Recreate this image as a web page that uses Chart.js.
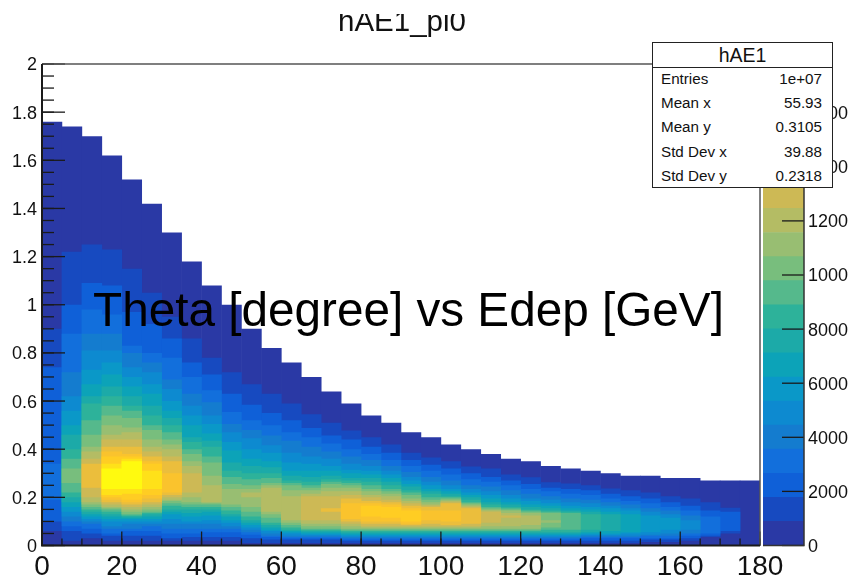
<!DOCTYPE html>
<html>
<head>
<meta charset="utf-8">
<script src="https://cdn.jsdelivr.net/npm/chart.js@4/dist/chart.umd.min.js"></script>
<style>
  html, body { margin: 0; padding: 0; background: #fff; }
  #page { position: relative; width: 848px; height: 580px; overflow: hidden; font-family: "Liberation Sans", sans-serif; color: #111; filter: blur(0.4px); }
  canvas { position: absolute; top: 0; }
  #main { left: 0; }
  #bar { left: 755px; }
  #title { position: absolute; left: 0; width: 804px; top: 14px; height: 28px; overflow: hidden; text-align: center; font-size: 29.5px; line-height: 26px; }
  #title span { position: relative; top: -6px; }
  #overlay { position: absolute; left: 93px; top: 280px; font-size: 47.7px; line-height: 60px; color: #000; white-space: nowrap; }
  #stats { position: absolute; left: 652px; top: 42px; width: 179px; height: 144px; border: 1.5px solid #222; background: #fff; font-size: 15.2px; box-sizing: content-box; }
  #stats .head { height: 24px; line-height: 25px; text-align: center; font-size: 19.5px; border-bottom: 1.5px solid #222; }
  #stats .row { display: flex; justify-content: space-between; padding: 0 10px 0 8px; height: 24.2px; line-height: 21px; }
</style>
</head>
<body>
<div id="page">
  <canvas id="main" width="848" height="580"></canvas>
  <canvas id="bar" width="140" height="580"></canvas>
  <div id="title"><span>hAE1_pi0</span></div>
  <div id="overlay">Theta [degree] vs Edep [GeV]</div>
  <div id="stats">
    <div class="head">hAE1</div>
    <div class="row"><span>Entries</span><span>1e+07</span></div>
    <div class="row"><span>Mean x</span><span>55.93</span></div>
    <div class="row"><span>Mean y</span><span>0.3105</span></div>
    <div class="row"><span>Std Dev x</span><span>39.88</span></div>
    <div class="row"><span>Std Dev y</span><span>0.2318</span></div>
  </div>
</div>
<script>
// theta bins, 5 degrees wide
const thetaCenters = [2.5,7.5,12.5,17.5,22.5,27.5,32.5,37.5,42.5,47.5,52.5,57.5,62.5,67.5,72.5,77.5,82.5,87.5,92.5,97.5,102.5,107.5,112.5,117.5,122.5,127.5,132.5,137.5,142.5,147.5,152.5,157.5,162.5,167.5,172.5,177.5];

// colour band edges read per theta bin, Edep in GeV
// bandHighs[c][k] = where band k ends going up, bandLows[c][k-1] = where band k starts
const bandHighs = [
  [1.76,.90,.74,.34],
  [1.74,1.22,1.00,.88,.72,.62,.56,.50,.46,.40,.36,.32],
  [1.70,1.25,1.09,.98,.88,.81,.73,.67,.62,.59,.52,.46,.41,.39,.36,.34],
  [1.62,1.23,1.08,.96,.88,.81,.76,.71,.66,.62,.58,.54,.50,.46,.44,.41,.39,.37,.34,.32],
  [1.52,1.15,.97,.83,.80,.74,.70,.66,.62,.58,.56,.53,.49,.47,.44,.41,.38,.37,.36,.35],
  [1.42,1.05,.92,.80,.76,.72,.67,.63,.58,.54,.50,.48,.44,.41,.39,.37,.35,.34,.31],
  [1.30,.95,.86,.78,.69,.65,.60,.56,.53,.50,.47,.44,.42,.40,.37,.35,.30],
  [1.18,.86,.76,.70,.63,.58,.54,.50,.45,.43,.40,.38,.35,.33,.30],
  [1.08,.78,.71,.645,.595,.54,.505,.465,.435,.41,.37,.345,.29,.25],
  [1.00,.72,.63,.555,.505,.47,.43,.395,.345,.31,.285,.255,.235],
  [.90,.67,.585,.52,.48,.445,.40,.36,.33,.30,.275,.25,.235,.22],
  [.82,.63,.55,.50,.457,.416,.385,.35,.325,.30,.28,.26,.25,.24],
  [.76,.59,.52,.47,.435,.385,.345,.31,.29,.27,.26,.25,.23,.205],
  [.70,.545,.488,.45,.41,.37,.34,.31,.285,.265,.25,.24,.23,.215,.205],
  [.64,.51,.457,.424,.39,.36,.33,.31,.29,.275,.265,.255,.24,.225,.205,.155],
  [.59,.478,.44,.40,.37,.34,.315,.30,.28,.27,.26,.25,.24,.225,.21,.195,.175],
  [.54,.45,.41,.38,.355,.33,.31,.295,.28,.265,.25,.235,.225,.21,.20,.185,.175,.165],
  [.51,.42,.385,.355,.33,.31,.295,.28,.265,.25,.235,.225,.215,.205,.19,.18,.17,.16],
  [.47,.385,.355,.33,.305,.285,.27,.255,.245,.23,.22,.21,.195,.185,.175,.165,.155,.145],
  [.45,.366,.335,.31,.285,.265,.25,.235,.225,.215,.20,.19,.18,.17,.165,.16,.145],
  [.42,.35,.32,.295,.27,.25,.235,.225,.215,.205,.20,.195,.19,.185,.18,.175,.145],
  [.40,.328,.30,.275,.25,.235,.22,.21,.20,.19,.18,.175,.17,.165,.16,.155],
  [.38,.32,.285,.265,.245,.225,.21,.195,.18,.17,.16,.155,.15,.145,.14],
  [.36,.295,.27,.25,.23,.21,.195,.18,.17,.16,.155,.15,.145,.135,.125],
  [.35,.284,.255,.235,.215,.195,.185,.17,.16,.15,.145,.14,.135,.125],
  [.33,.263,.24,.225,.205,.19,.175,.165,.155,.145,.14,.135,.105],
  [.32,.258,.235,.215,.195,.18,.165,.155,.145,.14,.135],
  [.31,.25,.23,.21,.19,.175,.16,.15,.14,.13],
  [.30,.237,.215,.195,.18,.165,.155,.14,.13],
  [.29,.23,.205,.185,.17,.155,.145,.13],
  [.29,.22,.195,.175,.155,.14,.125],
  [.28,.205,.18,.16,.145,.13,.115],
  [.28,.195,.165,.145,.125,.105],
  [.27,.18,.145,.12],
  [.27,.157,.14],
  [.27]
];
const bandLows = [
  [.06,.10,.19],
  [.02,.06,.08,.10,.12,.14,.16,.18,.20,.22,.26],
  [.03,.05,.07,.09,.10,.11,.12,.13,.14,.15,.16,.17,.18,.20,.24],
  [.02,.04,.05,.07,.08,.10,.11,.12,.13,.14,.15,.155,.16,.17,.18,.19,.20,.21,.235],
  [.02,.04,.06,.07,.09,.10,.11,.115,.12,.125,.13,.14,.15,.16,.17,.18,.19,.215,.235],
  [.02,.04,.06,.08,.09,.10,.11,.12,.13,.135,.14,.15,.16,.17,.18,.195,.21,.235],
  [.02,.03,.05,.07,.09,.11,.13,.14,.15,.165,.175,.185,.19,.20,.21,.22],
  [.02,.035,.05,.07,.09,.10,.12,.135,.15,.16,.17,.18,.20,.22],
  [.02,.035,.055,.07,.09,.105,.125,.14,.15,.16,.17,.175,.18],
  [.02,.035,.055,.07,.08,.095,.105,.12,.13,.145,.16,.17],
  [.01,.03,.045,.055,.065,.075,.085,.095,.105,.12,.14,.16,.20],
  [.01,.025,.035,.04,.05,.06,.065,.075,.085,.095,.115,.13,.14],
  [.01,.025,.03,.035,.04,.05,.055,.06,.065,.075,.085,.095,.105],
  [.01,.025,.03,.035,.04,.045,.05,.055,.06,.065,.07,.08,.09,.105],
  [.01,.025,.03,.035,.04,.045,.05,.055,.06,.065,.07,.08,.09,.105,.14],
  [.01,.02,.025,.03,.035,.04,.045,.05,.055,.06,.065,.07,.08,.09,.10,.11],
  [.01,.02,.025,.03,.035,.04,.045,.05,.055,.06,.065,.07,.075,.08,.09,.10,.12],
  [.01,.02,.025,.03,.035,.04,.045,.05,.055,.06,.065,.07,.075,.08,.09,.10,.115],
  [.01,.02,.025,.03,.035,.04,.045,.05,.055,.06,.065,.07,.075,.08,.085,.09,.10],
  [.01,.02,.025,.03,.035,.04,.045,.05,.055,.06,.065,.07,.075,.08,.09,.105],
  [.01,.02,.025,.03,.035,.04,.045,.05,.055,.06,.065,.07,.075,.08,.085,.10],
  [.01,.02,.025,.03,.035,.04,.045,.05,.055,.06,.065,.07,.075,.08,.09],
  [.01,.02,.025,.03,.035,.04,.045,.05,.055,.06,.065,.07,.08,.095],
  [.01,.02,.025,.03,.035,.04,.045,.05,.055,.06,.065,.07,.08,.115],
  [.01,.02,.025,.03,.035,.04,.045,.05,.055,.06,.065,.07,.085],
  [.01,.02,.025,.03,.035,.04,.045,.05,.055,.065,.075,.095],
  [.01,.02,.025,.03,.035,.04,.045,.05,.055,.065],
  [.01,.02,.03,.035,.04,.045,.05,.055,.065],
  [.01,.02,.03,.035,.04,.045,.05,.06],
  [.01,.02,.03,.035,.04,.05,.055],
  [.015,.025,.03,.04,.045,.055],
  [.015,.025,.03,.04,.05,.065],
  [.02,.03,.04,.05,.065],
  [.035,.04,.05],
  [.05,.06],
  []
];

// colour scale
const zEdges = [0,890,1780,2670,3560,4450,5340,6230,7120,8010,8900,9790,10680,11570,12460,13350,14240,15130,16020,16910,17800];
const zTicks = [0,2000,4000,6000,8000,10000,12000,14000,16000];
const palette = ['#2a39a5','#174ac0','#0f60d8','#126fdc','#147ccf','#0d8ad0','#0a98c8','#0ca3b8','#1caaa8','#2db29a','#55b98c','#78be7d','#98be72','#b4bc64','#cdb955','#ebbe3c','#fac32d','#ffcd23','#ffe119','#fffa0f'];

const lineColor = '#1a1a1a';

// axis decorations: ROOT puts its tick marks inside the frame
function insideTicks(scale, ctx, area, minorStep, majorLen, minorLen) {
  const horiz = scale.isHorizontal();
  ctx.strokeStyle = lineColor;
  ctx.lineWidth = 1.3;
  const mark = (v, len) => {
    const p = scale.getPixelForValue(v);
    ctx.beginPath();
    if (horiz) { ctx.moveTo(p, area.bottom); ctx.lineTo(p, area.bottom - len); }
    else if (scale.position === 'right') { ctx.moveTo(area.right, p); ctx.lineTo(area.right - len, p); }
    else { ctx.moveTo(area.left, p); ctx.lineTo(area.left + len, p); }
    ctx.stroke();
  };
  if (minorStep) {
    for (let i = 0, v = scale.min; v <= scale.max + 1e-6; i++, v = scale.min + i * minorStep) mark(v, minorLen);
  }
  scale.ticks.forEach(t => mark(t.value, majorLen));
}

const mainFrame = {
  id: 'mainFrame',
  afterDatasetsDraw(chart) {
    const { ctx, chartArea: a, scales } = chart;
    ctx.save();
    insideTicks(scales.x, ctx, a, 5, 14, 7);
    insideTicks(scales.y, ctx, a, 0.05, 23, 12);
    ctx.strokeStyle = '#555';
    ctx.lineWidth = 1.5;
    ctx.beginPath();
    ctx.moveTo(a.left, a.top); ctx.lineTo(a.right, a.top); ctx.lineTo(a.right, a.bottom);
    ctx.stroke();
    ctx.strokeStyle = lineColor;
    ctx.lineWidth = 2;
    ctx.beginPath();
    ctx.moveTo(a.left, a.top); ctx.lineTo(a.left, a.bottom); ctx.lineTo(a.right, a.bottom);
    ctx.stroke();
    ctx.restore();
  }
};

const barFrame = {
  id: 'barFrame',
  afterDatasetsDraw(chart) {
    const { ctx, chartArea: a, scales } = chart;
    ctx.save();
    insideTicks(scales.y, ctx, a, 0, 22, 0);
    ctx.strokeStyle = '#333';
    ctx.lineWidth = 1.5;
    ctx.beginPath();
    ctx.moveTo(a.right, a.top); ctx.lineTo(a.right, a.bottom); ctx.lineTo(a.left, a.bottom);
    ctx.stroke();
    ctx.restore();
  }
};

const mainDatasets = palette.map((color, k) => ({
  backgroundColor: color,
  borderWidth: 0,
  grouped: false,
  barPercentage: 1.03,
  categoryPercentage: 1,
  order: palette.length - k,
  data: thetaCenters.flatMap((x, c) => {
    if (bandHighs[c].length <= k) return [];
    const low = k === 0 ? 0 : bandLows[c][k - 1];
    return [{ x, y: [low, bandHighs[c][k]] }];
  })
}));

new Chart(document.getElementById('main'), {
  type: 'bar',
  data: { datasets: mainDatasets },
  plugins: [mainFrame],
  options: {
    responsive: false,
    animation: false,
    layout: { padding: { top: 64, right: 88, left: 0, bottom: 0 } },
    plugins: { legend: { display: false }, tooltip: { enabled: false } },
    scales: {
      x: {
        type: 'linear', min: 0, max: 180, offset: false,
        grid: { display: false, drawTicks: false }, border: { display: false },
        afterFit: s => { s.height = 34.5; },
        ticks: { stepSize: 20, maxRotation: 0, autoSkip: false, padding: 5, color: '#111', font: { family: 'Liberation Sans', size: 28 } }
      },
      y: {
        min: 0, max: 2,
        grid: { display: false, drawTicks: false }, border: { display: false },
        afterFit: s => { s.width = 42; },
        ticks: { stepSize: 0.2, autoSkip: false, padding: 5, labelOffset: 1.5, color: '#111', font: { family: 'Liberation Sans', size: 18 }, callback: v => String(+v.toFixed(1)) }
      }
    }
  }
});

const barDatasets = palette.map((color, k) => ({
  backgroundColor: color,
  borderWidth: 0,
  grouped: false,
  barPercentage: 1,
  categoryPercentage: 1,
  data: [[zEdges[k], zEdges[k + 1]]]
}));

new Chart(document.getElementById('bar'), {
  type: 'bar',
  data: { labels: [''], datasets: barDatasets },
  plugins: [barFrame],
  options: {
    responsive: false,
    animation: false,
    layout: { padding: { top: 64, left: 8, right: 0, bottom: 0 } },
    plugins: { legend: { display: false }, tooltip: { enabled: false } },
    scales: {
      x: {
        grid: { display: false, drawTicks: false }, border: { display: false },
        afterFit: s => { s.height = 34.5; },
        ticks: { display: false }
      },
      y: {
        position: 'right', min: 0, max: 17800,
        grid: { display: false, drawTicks: false }, border: { display: false },
        afterFit: s => { s.width = 91; },
        afterBuildTicks: s => { s.ticks = zTicks.map(value => ({ value })); },
        ticks: { autoSkip: false, padding: 4, labelOffset: 1.5, color: '#111', font: { family: 'Liberation Sans', size: 18 }, callback: v => String(v) }
      }
    }
  }
});
</script>
</body>
</html>
